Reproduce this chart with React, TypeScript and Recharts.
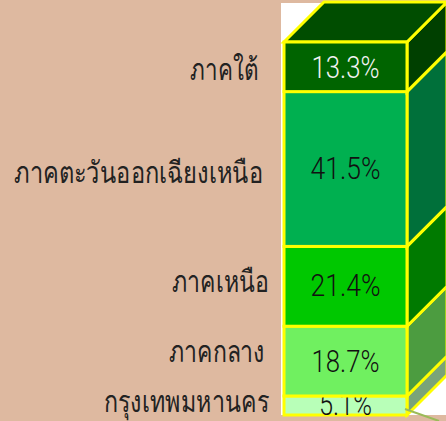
import React from "react";
import { BarChart, Bar, XAxis, YAxis } from "recharts";

const TAN = "#DEB9A0";
const YELLOW = "#FFFF00";
const category = ["สัดส่วน"];
const bangkok = [5.1];
const central = [18.7];
const north = [21.4];
const northeast = [41.5];
const south = [13.3];
const yTicks = [0, 20, 40, 60, 80, 100];
const rows = [
  { name: category[0], bangkok: bangkok[0], central: central[0], north: north[0], northeast: northeast[0], south: south[0] },
];

const DEPTH = 40;

function Seg(props: any) {
  const { x, y, width, height, front, side, top, label, labelDy, labelRight, labelCy, labelW, valueText, valueCy, valueW, valueFill, clipId, leader } = props;
  const r = x + width;
  const b = y + height;
  return (
    <g>
      <polygon points={`${r},${y} ${r + DEPTH},${y - DEPTH} ${r + DEPTH},${b - DEPTH} ${r},${b}`} fill={side} stroke={YELLOW} strokeWidth={3} />
      {top && (
        <polygon points={`${x},${y} ${x + DEPTH},${y - DEPTH} ${r + DEPTH},${y - DEPTH} ${r},${y}`} fill={top} stroke={YELLOW} strokeWidth={3} />
      )}
      <rect x={x} y={y} width={width} height={height} fill={front} stroke={YELLOW} strokeWidth={3} />
      {leader && <line x1={r - 2} y1={b - 6} x2={r + 32} y2={b + 6} stroke="#9BBB59" strokeWidth={2} />}
      {clipId && (
        <clipPath id={clipId}>
          <rect x={x} y={y - 10} width={width} height={height + 10} />
        </clipPath>
      )}
      <g clipPath={clipId ? `url(#${clipId})` : undefined}>
        <text
          x={x + width / 2}
          y={valueCy + 11}
          textAnchor="middle"
          fontFamily="Roboto, 'Liberation Sans', Arial, sans-serif"
          fontWeight={300}
          fontSize={31}
          textLength={valueW}
          lengthAdjust="spacingAndGlyphs"
          fill={valueFill}
        >
          {valueText}
        </text>
      </g>
      <text
        x={labelRight}
        y={labelCy + labelDy}
        textAnchor="end"
        fontFamily="'Noto Sans', 'DejaVu Sans', sans-serif"
        fontWeight={300}
        fontSize={30}
        textLength={labelW}
        lengthAdjust="spacingAndGlyphs"
        fill="#222222"
      >
        {label}
      </text>
    </g>
  );
}

export default function App() {
  return (
    <div style={{ position: "fixed", left: 0, top: 0, width: 446, height: 421, background: TAN, overflow: "hidden" }}>
      <div style={{ position: "absolute", left: 281, top: 3, width: 165, height: 412, background: "#FFFFFF" }} />
      <div style={{ position: "absolute", left: 0, top: 0 }}>
        <BarChart width={446} height={421} data={rows} margin={{ top: 42, right: 39, bottom: 6, left: 284 }} barCategoryGap={0}>
          <XAxis dataKey="name" hide />
          <YAxis hide domain={[0, 100]} ticks={yTicks} />
          <Bar dataKey="bangkok" stackId="a" isAnimationActive={false}
            shape={(p: any) => <Seg {...p} front="#B8FFB8" side="#7AA478" label="กรุงเทพมหานคร" labelRight={269} labelCy={402} labelDy={10} labelW={165} valueText="5.1%" valueCy={404} valueW={53} valueFill="#111111" clipId="clipBkk" leader />} />
          <Bar dataKey="central" stackId="a" isAnimationActive={false}
            shape={(p: any) => <Seg {...p} front="#70F060" side="#4C9C40" label="ภาคกลาง" labelRight={265} labelCy={352} labelDy={10} labelW={96} valueText="18.7%" valueCy={361} valueW={68} valueFill="#111111" />} />
          <Bar dataKey="north" stackId="a" isAnimationActive={false}
            shape={(p: any) => <Seg {...p} front="#00C800" side="#007A00" label="ภาคเหนือ" labelRight={269} labelCy={282} labelDy={10} labelW={97} valueText="21.4%" valueCy={285} valueW={70} valueFill="#111111" />} />
          <Bar dataKey="northeast" stackId="a" isAnimationActive={false}
            shape={(p: any) => <Seg {...p} front="#00B050" side="#00703A" label="ภาคตะวันออกเฉียงเหนือ" labelRight={263} labelCy={173} labelDy={10} labelW={249} valueText="41.5%" valueCy={168} valueW={70} valueFill="#111111" />} />
          <Bar dataKey="south" stackId="a" isAnimationActive={false}
            shape={(p: any) => <Seg {...p} front="#006400" side="#004000" top="#004D00" label="ภาคใต้" labelRight={258} labelCy={70} labelDy={10} labelW={68} valueText="13.3%" valueCy={67} valueW={68} valueFill="#F2F2F2" />} />
        </BarChart>
      </div>
    </div>
  );
}
